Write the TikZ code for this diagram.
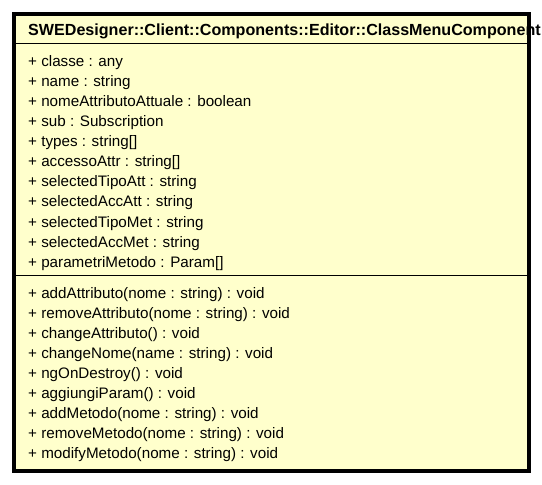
\documentclass[tikz,border=0pt]{standalone}
\usepackage{fontspec}
\setmainfont{Liberation Sans}
\definecolor{classfill}{RGB}{255,255,204}

\begin{document}
\begin{tikzpicture}[x=1bp,y=-1bp,
  member/.style={anchor=base west,inner sep=0pt,font=\fontsize{15.2bp}{18bp}\selectfont},
  title/.style={anchor=base west,inner sep=0pt,font=\fontsize{16.1bp}{18bp}\selectfont\bfseries}]
  \useasboundingbox (0,0) rectangle (542,485);
  \filldraw[fill=classfill,line width=3.5bp] (14,14) rectangle (529,471); % class box
  \draw[line width=1bp] (14,44) -- (529,44); % name | attributes
  \draw[line width=1bp] (14,275) -- (529,275); % attributes | operations
  \node[title] (name) at (28,35.7) {SWEDesigner::Client::Components::Editor::ClassMenuComponent};
  \node[member] (a1) at (28,67) {+ classe : any};
  \node[member] (a2) at (28,87) {+ name : string};
  \node[member] (a3) at (28,107) {+ nomeAttributoAttuale : boolean};
  \node[member] (a4) at (28,127) {+ sub : Subscription};
  \node[member] (a5) at (28,147) {+ types : string[]};
  \node[member] (a6) at (28,167) {+ accessoAttr : string[]};
  \node[member] (a7) at (28,187) {+ selectedTipoAtt : string};
  \node[member] (a8) at (28,207) {+ selectedAccAtt : string};
  \node[member] (a9) at (28,227) {+ selectedTipoMet : string};
  \node[member] (a10) at (28,247) {+ selectedAccMet : string};
  \node[member] (a11) at (28,267) {+ parametriMetodo : Param[]};
  \node[member] (m1) at (28,298.3) {+ addAttributo(nome : string) : void};
  \node[member] (m2) at (28,318.3) {+ removeAttributo(nome : string) : void};
  \node[member] (m3) at (28,338.3) {+ changeAttributo() : void};
  \node[member] (m4) at (28,358.3) {+ changeNome(name : string) : void};
  \node[member] (m5) at (28,378.3) {+ ngOnDestroy() : void};
  \node[member] (m6) at (28,398.3) {+ aggiungiParam() : void};
  \node[member] (m7) at (28,418.3) {+ addMetodo(nome : string) : void};
  \node[member] (m8) at (28,438.3) {+ removeMetodo(nome : string) : void};
  \node[member] (m9) at (28,458.3) {+ modifyMetodo(nome : string) : void};
\end{tikzpicture}
\end{document}
